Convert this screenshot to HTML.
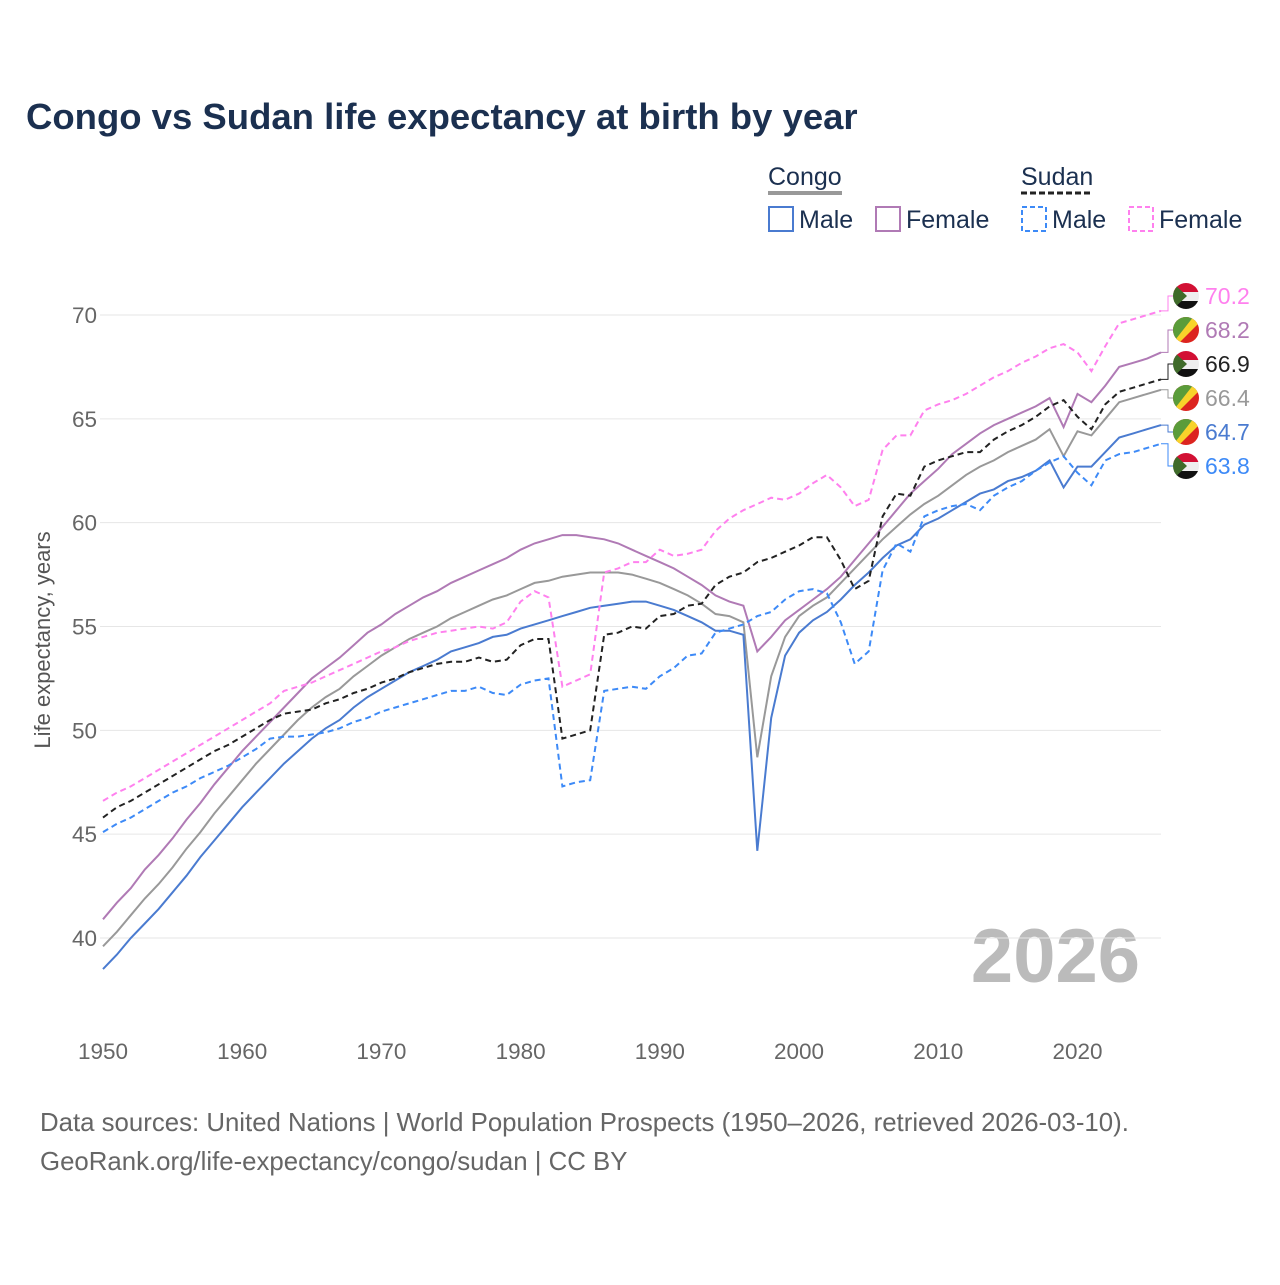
<!DOCTYPE html>
<html><head><meta charset="utf-8">
<style>
body{margin:0;background:#fff;font-family:"Liberation Sans",sans-serif;}
svg text{font-family:"Liberation Sans",sans-serif;}
</style></head>
<body>
<svg id="chart" width="1280" height="1280" viewBox="0 0 1280 1280" xmlns="http://www.w3.org/2000/svg">
<rect width="1280" height="1280" fill="#fff"/>
<text x="26" y="129" font-size="36.5" font-weight="bold" fill="#1b3050">Congo vs Sudan life expectancy at birth by year</text>
<g font-size="25" fill="#1b3050">
 <text x="768" y="185" fill="#1b3050">Congo</text>
 <line x1="768" y1="193" x2="842" y2="193" stroke="#999" stroke-width="4"/>
 <text x="1021" y="185" fill="#1b3050">Sudan</text>
 <line x1="1021" y1="193" x2="1090" y2="193" stroke="#222" stroke-width="3" stroke-dasharray="6,3"/>
 <g><rect x="769" y="207" width="24" height="24" fill="none" stroke="#4a7bd0" stroke-width="2"/><text x="799" y="228">Male</text></g>
 <g><rect x="876" y="207" width="24" height="24" fill="none" stroke="#b07ab5" stroke-width="2"/><text x="906" y="228">Female</text></g>
 <g><rect x="1022" y="207" width="24" height="24" fill="none" stroke="#3d8af7" stroke-width="2" stroke-dasharray="5,3"/><text x="1052" y="228">Male</text></g>
 <g><rect x="1129" y="207" width="24" height="24" fill="none" stroke="#ff80ee" stroke-width="2" stroke-dasharray="5,3"/><text x="1159" y="228">Female</text></g>
</g>
<text transform="translate(50,640) rotate(-90)" text-anchor="middle" font-size="22" fill="#555">Life expectancy, years</text>
<text x="1140" y="982" text-anchor="end" font-size="76" font-weight="bold" fill="#bbb">2026</text>
<g id="grid"></g><g id="axes"></g><g id="series"></g><g id="labels"></g>
<text x="40" y="1131" font-size="25.8" fill="#666">Data sources: United Nations | World Population Prospects (1950–2026, retrieved 2026-03-10).</text>
<text x="40" y="1170" font-size="25.8" fill="#666">GeoRank.org/life-expectancy/congo/sudan | CC BY</text>
</svg>
<script>
const startYear = 1950;
const xTicks = [1950,1960,1970,1980,1990,2000,2010,2020];
const yTicks = [40,45,50,55,60,65,70];
const congoMale = [38.5,39.2,40.0,40.7,41.4,42.2,43.0,43.9,44.7,45.5,46.3,47.0,47.7,48.4,49.0,49.6,50.1,50.5,51.1,51.6,52.0,52.4,52.8,53.1,53.4,53.8,54.0,54.2,54.5,54.6,54.9,55.1,55.3,55.5,55.7,55.9,56.0,56.1,56.2,56.2,56.0,55.8,55.5,55.2,54.8,54.8,54.6,44.2,50.6,53.6,54.7,55.3,55.7,56.3,57.0,57.6,58.3,58.9,59.2,59.9,60.2,60.6,61.0,61.4,61.6,62.0,62.2,62.5,63.0,61.7,62.7,62.7,63.4,64.1,64.3,64.5,64.7];
const congoAll = [39.6,40.3,41.1,41.9,42.6,43.4,44.3,45.1,46.0,46.8,47.6,48.4,49.1,49.8,50.5,51.1,51.6,52.0,52.6,53.1,53.6,54.0,54.4,54.7,55.0,55.4,55.7,56.0,56.3,56.5,56.8,57.1,57.2,57.4,57.5,57.6,57.6,57.6,57.5,57.3,57.1,56.8,56.5,56.1,55.6,55.5,55.2,48.7,52.6,54.5,55.5,56.0,56.4,57.1,57.8,58.5,59.2,59.8,60.4,60.9,61.3,61.8,62.3,62.7,63.0,63.4,63.7,64.0,64.5,63.2,64.4,64.2,65.0,65.8,66.0,66.2,66.4];
const congoFemale = [40.9,41.7,42.4,43.3,44.0,44.8,45.7,46.5,47.4,48.2,49.0,49.7,50.4,51.1,51.8,52.5,53.0,53.5,54.1,54.7,55.1,55.6,56.0,56.4,56.7,57.1,57.4,57.7,58.0,58.3,58.7,59.0,59.2,59.4,59.4,59.3,59.2,59.0,58.7,58.4,58.1,57.8,57.4,57.0,56.5,56.2,56.0,53.8,54.5,55.3,55.8,56.3,56.8,57.4,58.2,59.0,59.8,60.6,61.4,62.0,62.6,63.3,63.8,64.3,64.7,65.0,65.3,65.6,66.0,64.6,66.2,65.8,66.6,67.5,67.7,67.9,68.2];
const sudanAll = [45.8,46.3,46.6,47.0,47.4,47.8,48.2,48.6,49.0,49.3,49.7,50.1,50.5,50.8,50.9,51.0,51.3,51.5,51.8,52.0,52.3,52.5,52.8,53.0,53.2,53.3,53.3,53.5,53.3,53.4,54.1,54.4,54.4,49.6,49.8,50.0,54.6,54.7,55.0,54.9,55.5,55.6,56.0,56.1,57.0,57.4,57.6,58.1,58.3,58.6,58.9,59.3,59.3,58.2,56.8,57.2,60.3,61.4,61.3,62.7,63.0,63.2,63.4,63.4,64.0,64.4,64.7,65.1,65.6,65.9,65.1,64.5,65.7,66.3,66.5,66.7,66.9];
const sudanMale = [45.1,45.5,45.8,46.2,46.6,47.0,47.3,47.7,48.0,48.3,48.7,49.1,49.6,49.7,49.7,49.8,49.9,50.1,50.4,50.6,50.9,51.1,51.3,51.5,51.7,51.9,51.9,52.1,51.8,51.7,52.2,52.4,52.5,47.3,47.5,47.6,51.9,52.0,52.1,52.0,52.6,53.0,53.6,53.7,54.7,54.9,55.1,55.5,55.7,56.3,56.7,56.8,56.6,55.2,53.2,53.8,57.7,59.0,58.6,60.3,60.6,60.8,60.9,60.6,61.3,61.7,62.0,62.5,62.9,63.2,62.4,61.8,63.0,63.3,63.4,63.6,63.8];
const sudanFemale = [46.6,47.0,47.3,47.7,48.1,48.5,48.9,49.3,49.7,50.1,50.5,50.9,51.3,51.9,52.1,52.3,52.6,52.9,53.2,53.5,53.8,54.0,54.3,54.5,54.7,54.8,54.9,55.0,54.9,55.2,56.2,56.7,56.4,52.1,52.4,52.7,57.6,57.8,58.1,58.1,58.7,58.4,58.5,58.7,59.6,60.2,60.6,60.9,61.2,61.1,61.4,61.9,62.3,61.7,60.8,61.1,63.5,64.2,64.2,65.4,65.7,65.9,66.2,66.6,67.0,67.3,67.7,68.0,68.4,68.6,68.2,67.3,68.5,69.6,69.8,70.0,70.2];

const NS="http://www.w3.org/2000/svg";
function x(yr){return 103+(yr-1950)*(1161-103)/76;}
function y(v){return 315+(70-v)*(938-315)/30;}
function mk(tag,attrs,parent){const e=document.createElementNS(NS,tag);for(const k in attrs)e.setAttribute(k,attrs[k]);parent.appendChild(e);return e;}
const grid=document.getElementById('grid'),axes=document.getElementById('axes'),ser=document.getElementById('series'),lab=document.getElementById('labels');
yTicks.forEach(t=>{
 const l=mk('line',{x1:100,x2:1161,y1:y(t),y2:y(t),stroke:'#e6e6e6','stroke-width':1},grid);
 
 
 const tx=mk('text',{x:97,y:y(t)+8,'text-anchor':'end','font-size':22.5,fill:'#666'},axes);
 tx.textContent=t;
 
 
});
xTicks.forEach(t=>{
 const tx=mk('text',{x:x(t),y:1059,'text-anchor':'middle','font-size':22.5,fill:'#666'},axes);
 tx.textContent=t;
 
 
});
const defs=[
 {d:congoAll,c:'#999',dash:'',name:'congo-total-line'},
 {d:congoFemale,c:'#b07ab5',dash:'',name:'congo-female-line'},
 {d:congoMale,c:'#4a7bd0',dash:'',name:'congo-male-line'},
 {d:sudanFemale,c:'#ff80ee',dash:'6,4',name:'sudan-female-line'},
 {d:sudanMale,c:'#3d8af7',dash:'6,4',name:'sudan-male-line'},
 {d:sudanAll,c:'#222',dash:'6,4',name:'sudan-total-line'}
];
defs.forEach(s=>{
 const pts=s.d.map((v,i)=>x(startYear+i).toFixed(1)+','+y(v).toFixed(1)).join(' ');
 const p=mk('polyline',{points:pts,fill:'none',stroke:s.c,'stroke-width':2,'stroke-dasharray':s.dash},ser);
 
 
});
const ends=[
 {d:sudanFemale,c:'#ff80ee',flag:'sudan',ly:296},
 {d:congoFemale,c:'#b07ab5',flag:'congo',ly:330},
 {d:sudanAll,c:'#222',flag:'sudan',ly:364},
 {d:congoAll,c:'#999',flag:'congo',ly:398},
 {d:congoMale,c:'#4a7bd0',flag:'congo',ly:432},
 {d:sudanMale,c:'#3d8af7',flag:'sudan',ly:466}
];
ends.forEach((e,i)=>{
 const v=e.d[e.d.length-1];
 const ey=y(v);
 const c=mk('polyline',{points:`1161,${ey} 1168,${ey} 1168,${e.ly} 1174,${e.ly}`,fill:'none',stroke:e.c,'stroke-width':1},lab);
 
 
 const g=mk('g',{},lab);
 
 
 const cid='clip'+i;
 const cp=mk('clipPath',{id:cid},g);mk('circle',{cx:1186,cy:e.ly,r:13},cp);
 const gg=mk('g',{'clip-path':`url(#${cid})`},g);
 if(e.flag==='sudan'){
  mk('rect',{x:1172,y:e.ly-14,width:28,height:10,fill:'#d21034'},gg);
  mk('rect',{x:1172,y:e.ly-4,width:28,height:9,fill:'#eee'},gg);
  mk('rect',{x:1172,y:e.ly+5,width:28,height:10,fill:'#111'},gg);
  mk('polygon',{points:`1172,${e.ly-14} 1187,${e.ly} 1172,${e.ly+14}`,fill:'#3f6b2a'},gg);
 }else{
  mk('rect',{x:1172,y:e.ly-14,width:28,height:28,fill:'#dc241f'},gg);
  mk('polygon',{points:`1172,${e.ly+14} 1172,${e.ly-14} 1200,${e.ly-14}`,fill:'#5a9c3a'},gg);
  mk('polygon',{points:`1172,${e.ly+14} 1194,${e.ly-14} 1200,${e.ly-14} 1200,${e.ly-8} 1178,${e.ly+14}`,fill:'#f8d32a'},gg);
 }
 const t=mk('text',{x:1205,y:e.ly+8,'font-size':23,fill:e.c},lab);
 t.textContent=v.toFixed(1);
 
 
});
</script>
</body></html>
